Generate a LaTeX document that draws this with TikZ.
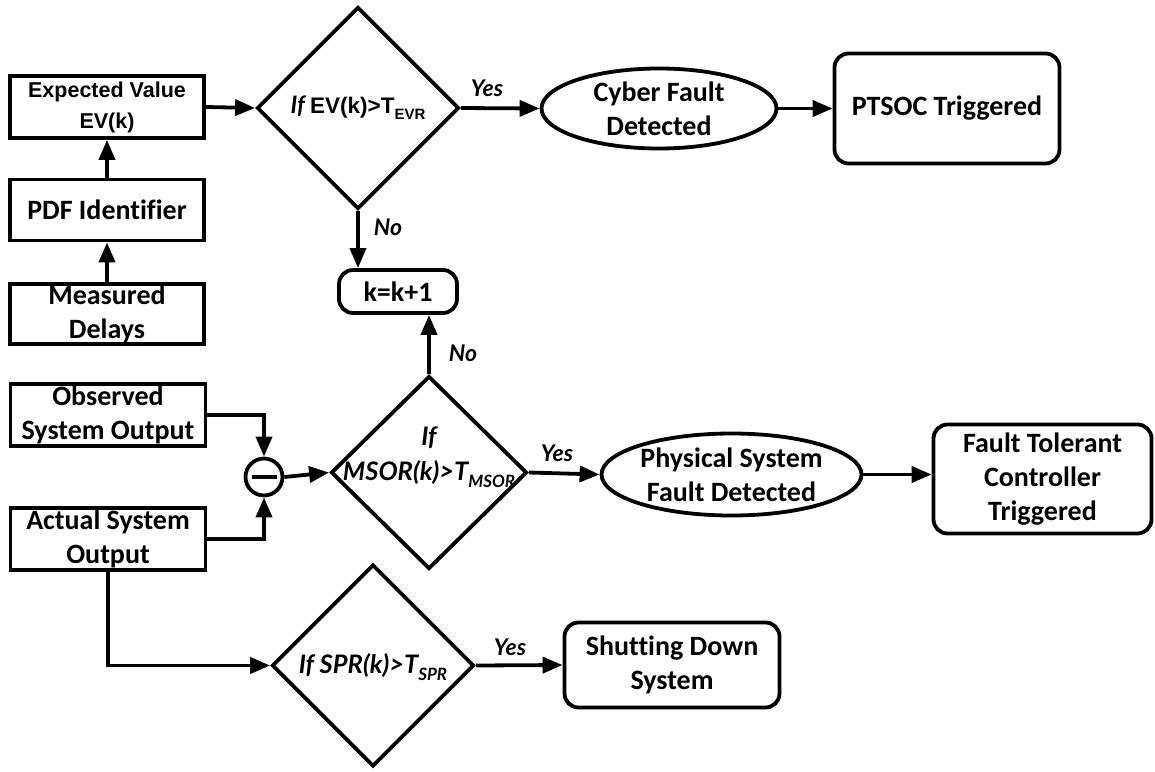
\documentclass[tikz,border=0pt]{standalone}
\usepackage{fontspec}
\setmainfont{Carlito}[Ligatures=NoCommon]
\newfontfamily\latofont{Lato}
\newfontfamily\arialfont{Liberation Sans}
\usetikzlibrary{shapes.geometric,arrows.meta}

% text helpers
\newcommand{\boxfont}{\bfseries\fontsize{28}{34}\selectfont}
\newcommand{\lowidx}[2]{\raisebox{-0.28em}{\fontsize{#1}{#1}\selectfont #2}}

\begin{document}
\begin{tikzpicture}[x=1pt,y=-1pt,
  arr/.style={line width=3.8pt,-{Triangle[length=20pt,width=16pt]}},
  plainbox/.style={draw,line width=3.8pt,rectangle,inner sep=0pt,align=center,font=\boxfont},
  roundbox/.style={plainbox,rounded corners=14pt},
  oval/.style={draw,line width=3.8pt,ellipse,inner sep=0pt,align=center,font=\boxfont},
  decision/.style={draw,line width=3.8pt,diamond,inner sep=0pt},
  condtxt/.style={align=center,font=\latofont\bfseries\itshape\fontsize{25.5}{35}\selectfont},
  lbl/.style={font=\latofont\bfseries\itshape\fontsize{23}{23}\selectfont}]
\useasboundingbox (0,0) rectangle (1155,771);

% left column
\node[plainbox,minimum width=194pt,minimum height=62pt,
      font=\arialfont\bfseries\fontsize{21.5}{31}\selectfont] (ev) at (107,107) {Expected Value\\EV(k)};
\node[plainbox,minimum width=194pt,minimum height=61pt] (pdf) at (107,210) {PDF Identifier};
\node[plainbox,minimum width=194pt,minimum height=60pt] (meas) at (107,314) {Measured\\Delays};
\node[plainbox,minimum width=195pt,minimum height=62pt] (obs) at (108,415) {Observed\\System Output};
\node[plainbox,minimum width=195pt,minimum height=62pt] (act) at (108,539) {Actual System\\Output};

% subtraction junction
\node[draw,circle,line width=3.8pt,minimum size=37pt,inner sep=0pt] (sub) at (264,477) {\rule[-1.75pt]{25pt}{3.5pt}};

% decisions
\node[decision,minimum width=202pt,minimum height=202pt] (d1) at (358,108) {};
\node[align=center] at (358,108) {{\latofont\bfseries\itshape\fontsize{24}{24}\selectfont If\ }{\arialfont\bfseries\fontsize{22.5}{22.5}\selectfont EV(k)>T\lowidx{15}{EVR}}};

\node[decision,minimum width=196pt,minimum height=193pt] (d2) at (429,472.5) {};
\node[condtxt] at (429,457) {If\\MSOR(k)>T\lowidx{17}{MSOR}};

\node[decision,minimum width=202pt,minimum height=202pt] (d3) at (373,665.5) {};
\node[condtxt] at (373,667) {If SPR(k)>T\lowidx{17}{SPR}};

% outcomes
\node[oval,minimum width=235pt,minimum height=80pt] (cyber) at (659,108.5) {Cyber Fault\\Detected};
\node[roundbox,minimum width=225pt,minimum height=110pt] (ptsoc) at (947,108.5) {PTSOC Triggered};
\node[roundbox,minimum width=118pt,minimum height=43pt] (kinc) at (398,291.5) {k=k+1};
\node[oval,minimum width=260pt,minimum height=82pt] (phys) at (731.5,474.5) {Physical System\\Fault Detected};
\node[roundbox,minimum width=218pt,minimum height=109pt] (ftc) at (1042.5,479) {Fault Tolerant\\Controller\\Triggered};
\node[roundbox,minimum width=215pt,minimum height=85pt] (shut) at (672,665) {Shutting Down\\System};

% connectors
\draw[arr] (meas.north) -- (pdf.south);
\draw[arr] (pdf.north) -- (ev.south);
\draw[arr] (ev.east) -- (d1.west);
\draw[arr] (d1.east) -- (cyber.west);
\draw[arr] (cyber.east) -- (ptsoc.west);
\draw[arr] (d1.south) -- (d1.south |- kinc.north);
\draw[arr] (d2.north) -- (d2.north |- kinc.south);
\draw[arr] (obs.east) -| (sub.north);
\draw[arr] (act.east) -| (sub.south);
\draw[arr] (sub.east) -- (d2.west);
\draw[arr] (d2.east) -- (phys.west);
\draw[arr] (phys.east) -- (ftc.west |- phys.east);
\draw[arr] (act.south) |- (d3.west);
\draw[arr] (d3.east) -- (shut.west);

% branch labels
\node[lbl] at (487,88) {Yes};
\node[lbl] at (388,227) {No};
\node[lbl] at (463,353) {No};
\node[lbl] at (557,453) {Yes};
\node[lbl] at (510,647) {Yes};
\end{tikzpicture}
\end{document}
